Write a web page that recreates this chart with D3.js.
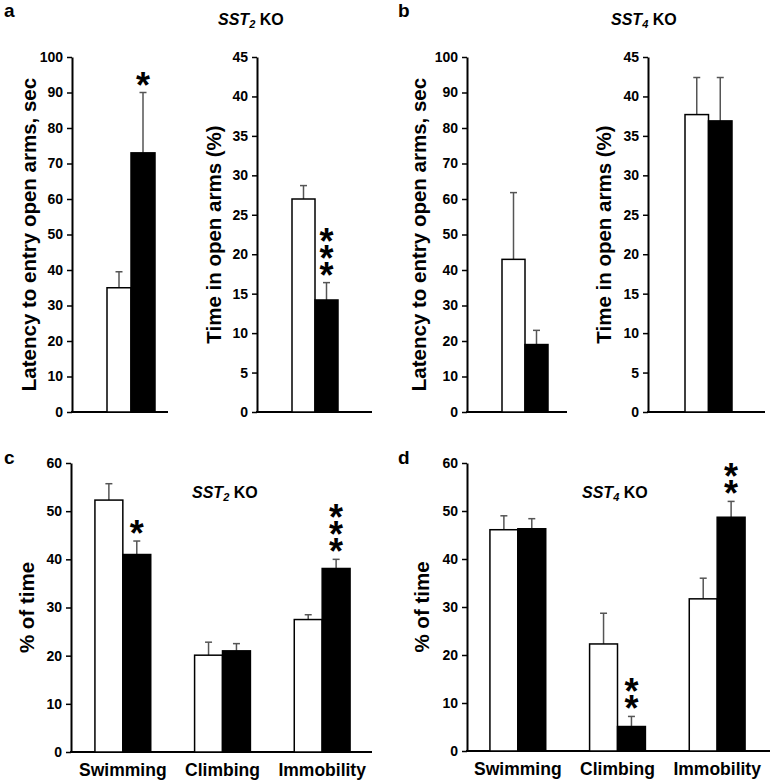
<!DOCTYPE html>
<html>
<head>
<meta charset="utf-8">
<script src="https://cdn.jsdelivr.net/npm/d3@7"></script>
<style>
  html, body { margin: 0; padding: 0; background: #fff; }
  svg { display: block; font-family: "Liberation Sans", Arial, sans-serif; }
</style>
</head>
<body>
<svg id="chart" width="771" height="781"></svg>
<script>
// ---------------- DATA ----------------
const groups = ["WT", "KO"];

// Panel a (SST2 KO) - elevated plus maze
const aLatencyMean = [35.0, 73.0];
const aLatencyErr  = [4.5, 17.0];
const aLatencyStars = [0, 1];
const aTimeMean = [27.0, 14.2];
const aTimeErr  = [1.7, 2.2];
const aTimeStars = [0, 3];

// Panel b (SST4 KO)
const bLatencyMean = [43.0, 19.0];
const bLatencyErr  = [18.8, 4.0];
const bLatencyStars = [0, 0];
const bTimeMean = [37.7, 36.9];
const bTimeErr  = [4.7, 5.5];
const bTimeStars = [0, 0];

// Panels c / d - forced swim test
const fstCategories = ["Swimming", "Climbing", "Immobility"];
const cWTMean = [52.3, 20.1, 27.5];
const cWTErr  = [3.4, 2.7, 1.0];
const cKOMean = [41.0, 21.0, 38.1];
const cKOErr  = [2.8, 1.5, 1.9];
const cKOStars = [1, 0, 3];

const dWTMean = [46.1, 22.3, 31.7];
const dWTErr  = [2.9, 6.4, 4.3];
const dKOMean = [46.3, 5.1, 48.7];
const dKOErr  = [2.1, 2.1, 3.3];
const dKOStars = [0, 2, 2];

// tick values
const latencyTicks = d3.range(0, 101, 10);
const timeTicks = d3.range(0, 46, 5);
const fstTicks = d3.range(0, 61, 10);

const latencyLabel = "Latency to entry open arms, sec";
const timeLabel = "Time in open arms (%)";
const fstLabel = "% of time";

// ---------------- DRAWING ----------------
const svg = d3.select("#chart");
const fills = ["#ffffff", "#000000"];

function drawYAxis(g, y, x0, x1, ticks, label, labelX) {
  const ax = g.append("g").attr("transform", `translate(${x0},0)`)
    .call(d3.axisLeft(y).tickValues(ticks).tickSize(5).tickSizeOuter(0).tickPadding(4));
  ax.select(".domain").attr("stroke", "#000").attr("stroke-width", 2);
  ax.selectAll(".tick line").attr("stroke", "#000").attr("stroke-width", 1.5);
  ax.selectAll(".tick text").attr("fill", "#000").attr("font-size", 14).attr("font-weight", "bold")
    .attr("font-family", "'Liberation Sans', Arial, sans-serif");
  g.append("line").attr("x1", x0 - 1).attr("x2", x1).attr("y1", y(0)).attr("y2", y(0))
    .attr("stroke", "#000").attr("stroke-width", 2);
  const yMid = (y.range()[0] + y.range()[1]) / 2;
  g.append("text").attr("transform", `translate(${labelX},${yMid}) rotate(-90)`)
    .attr("text-anchor", "middle").attr("dominant-baseline", "central")
    .attr("font-size", 20.5).attr("font-weight", "bold").text(label);
}

function drawBar(g, x, w, v, e, y, fill, stars) {
  const top = y(v + e);
  const cx = x + w / 2;
  g.append("line").attr("x1", cx).attr("x2", cx).attr("y1", y(v)).attr("y2", top)
    .attr("stroke", "#555").attr("stroke-width", 1.5);
  g.append("line").attr("x1", cx - 3.5).attr("x2", cx + 3.5).attr("y1", top).attr("y2", top)
    .attr("stroke", "#555").attr("stroke-width", 1.5);
  g.append("rect").attr("x", x).attr("y", y(v)).attr("width", w).attr("height", y(0) - y(v))
    .attr("fill", fill).attr("stroke", "#000").attr("stroke-width", 1.5);
  if (stars > 0) {
    const t = g.append("text").attr("text-anchor", "middle").attr("font-size", 36)
      .attr("font-weight", "bold");
    for (let i = 0; i < stars; i++) {
      t.append("tspan").attr("x", cx).attr("y", top + 5 - i * 17).text("*");
    }
  }
}

function smallPanel(cfg, means, errs, stars, ticks, label) {
  const g = svg.append("g");
  const y = d3.scaleLinear().domain([0, ticks[ticks.length - 1]]).range([cfg.yBot, cfg.yTop]);
  const x = d3.scaleBand().domain(groups).range(cfg.bars).paddingInner(0);
  drawYAxis(g, y, cfg.x0, cfg.x1, ticks, label, cfg.labelX);
  groups.forEach((k, i) => drawBar(g, x(k), x.bandwidth(), means[i], errs[i], y, fills[i], stars[i]));
}

function fstPanel(cfg, wtM, wtE, koM, koE, koStars) {
  const g = svg.append("g");
  const y = d3.scaleLinear().domain([0, 60]).range([cfg.yBot, cfg.yTop]);
  const x0 = d3.scaleBand().domain(fstCategories).range(cfg.band).paddingInner(0.44).paddingOuter(0.22);
  const x1 = d3.scaleBand().domain(groups).range([0, x0.bandwidth()]);
  drawYAxis(g, y, cfg.x0, cfg.x1, fstTicks, fstLabel, cfg.labelX);
  fstCategories.forEach((c, i) => {
    drawBar(g, x0(c) + x1("WT"), x1.bandwidth(), wtM[i], wtE[i], y, fills[0], 0);
    drawBar(g, x0(c) + x1("KO"), x1.bandwidth(), koM[i], koE[i], y, fills[1], koStars[i]);
    g.append("text").attr("x", x0(c) + x0.bandwidth() / 2).attr("y", y(0) + 24)
      .attr("text-anchor", "middle").attr("font-size", 17.5).attr("font-weight", "bold").text(c);
  });
}

function title(x, y, sub) {
  const t = svg.append("text").attr("x", x).attr("y", y).attr("font-size", 16).attr("font-weight", "bold");
  t.append("tspan").attr("font-style", "italic").text("SST");
  t.append("tspan").attr("font-style", "italic").attr("font-size", 11).attr("dy", 3).text(sub);
  t.append("tspan").attr("dy", -3).text(" KO");
}

function letter(x, y, s) {
  svg.append("text").attr("x", x).attr("y", y).attr("font-size", 19).attr("font-weight", "bold").text(s);
}

smallPanel({x0: 72, x1: 168, yTop: 57, yBot: 412, bars: [107, 155], labelX: 28},
  aLatencyMean, aLatencyErr, aLatencyStars, latencyTicks, latencyLabel);
smallPanel({x0: 257, x1: 372, yTop: 57, yBot: 412, bars: [292, 338], labelX: 213},
  aTimeMean, aTimeErr, aTimeStars, timeTicks, timeLabel);
smallPanel({x0: 467, x1: 567, yTop: 57, yBot: 412, bars: [502, 548], labelX: 418},
  bLatencyMean, bLatencyErr, bLatencyStars, latencyTicks, latencyLabel);
smallPanel({x0: 648, x1: 765, yTop: 57, yBot: 412, bars: [685, 732], labelX: 603},
  bTimeMean, bTimeErr, bTimeStars, timeTicks, timeLabel);

fstPanel({x0: 71, x1: 372, yTop: 463, yBot: 752, band: [73, 372], labelX: 26},
  cWTMean, cWTErr, cKOMean, cKOErr, cKOStars);
fstPanel({x0: 467, x1: 770, yTop: 463, yBot: 751, band: [468, 767], labelX: 421},
  dWTMean, dWTErr, dKOMean, dKOErr, dKOStars);

title(218, 25, "2");
title(611, 25, "4");
title(192, 498, "2");
title(582, 498, "4");

letter(4, 17, "a");
letter(398, 17, "b");
letter(4, 464, "c");
letter(398, 464, "d");
</script>
</body>
</html>
